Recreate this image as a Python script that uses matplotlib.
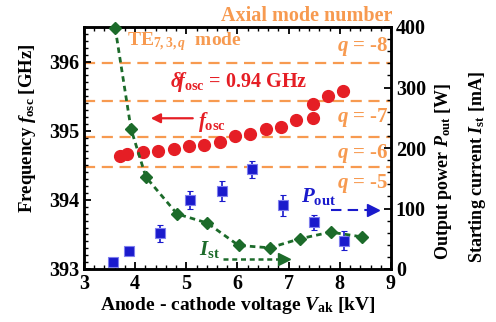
import matplotlib
matplotlib.use("Agg")
import matplotlib.pyplot as plt
import numpy as np
from matplotlib.ticker import MultipleLocator

plt.rcParams['font.family'] = 'Liberation Serif'
plt.rcParams['font.weight'] = 'bold'
plt.rcParams['axes.labelweight'] = 'bold'
plt.rcParams['mathtext.fontset'] = 'custom'
plt.rcParams['mathtext.rm'] = 'Liberation Serif:bold'
plt.rcParams['mathtext.it'] = 'Liberation Serif:bold:italic'
plt.rcParams['mathtext.bf'] = 'Liberation Serif:bold'

# oscillation frequency (left axis, GHz)
v_f = [3.70, 3.85, 4.15, 4.45, 4.75, 5.05, 5.35, 5.65, 5.95, 6.25, 6.55, 6.85,
       7.15, 7.47, 7.47, 7.77, 8.07]
f_osc = [394.64, 394.67, 394.69, 394.71, 394.74, 394.78, 394.80, 394.84, 394.92,
         394.95, 395.02, 395.06, 395.15, 395.19, 395.38, 395.50, 395.58]

# output power (right axis, W)
v_p = [3.56, 3.87, 4.48, 5.08, 5.69, 6.29, 6.88, 7.50, 8.08]
p_out = [12, 29, 59, 114, 129, 165, 105, 77, 47]
p_err = [0, 0, 14, 15, 17, 14, 18, 12, 16]

# starting current (right axis, mA)
v_i = [3.61, 3.92, 4.21, 4.82, 5.41, 6.02, 6.63, 7.22, 7.82, 8.44]
i_st = [398, 231, 152, 91, 76, 39, 35, 50, 61, 53]

# axial mode frequencies
q_freq = [395.98, 395.43, 394.91, 394.48]
q_labels = ['$q$ = -8', '$q$ = -7', '$q$ = -6', '$q$ = -5']
q_offset = [0.07, -0.07, -0.07, -0.07]

orange = '#f79a50'
red = '#e51e25'
blue = '#1a1acc'
green = '#1c6b2a'

fig = plt.figure(figsize=(4.96, 3.22), dpi=100)
ax = fig.add_axes([84/496, 1-269/322, (391-84)/496, (269-27)/322])
ax2 = ax.twinx()

ax.set_xlim(3, 9)
ax.set_ylim(393, 396.5)
ax2.set_ylim(0, 400)

for qf in q_freq:
    ax.axhline(qf, color=orange, lw=1.6, ls=(0, (5, 3)), zorder=1)
for qf, lab, off in zip(q_freq, q_labels, q_offset):
    ax.text(8.95, qf + off, lab, color=orange, fontsize=15, ha='right',
            va='bottom' if off > 0 else 'top')

ax.plot(v_f, f_osc, 'o', color=red, ms=8.5, zorder=3)

ax2.plot(v_i, i_st, color=green, lw=2, ls=(0, (2, 1.5)), marker='D', ms=6.5,
         zorder=4, clip_on=False)
ax2.errorbar(v_p, p_out, yerr=p_err, fmt='s', color=blue, ms=7.5,
             mec='#7f7fee', mew=0.8, ecolor=blue, elinewidth=1.2, capsize=2.5,
             zorder=3)

# annotations
ax.text(3.84, 396.23, r'TE$_{\mathrm{7,3,}q}$  mode', color=orange, fontsize=14)
fig.text(392/496, 1-16/322, 'Axial mode number', color=orange, fontsize=14.5,
         ha='right', va='center')
ax.text(4.69, 395.63, r'$\delta\!f_{\mathrm{osc}}$ = 0.94 GHz', color=red,
        fontsize=14.5)
ax.text(5.22, 395.05, r'$f_{\mathrm{osc}}$', color=red, fontsize=15)
ax.annotate('', xy=(4.25, 395.18), xytext=(5.18, 395.18),
            arrowprops=dict(arrowstyle='-|>', color=red, lw=1.6,
                            mutation_scale=14))
ax2.text(7.24, 110, r'$P_{\mathrm{out}}$', color=blue, fontsize=15)
ax2.plot([7.82, 8.65], [97, 97], color=blue, lw=1.5, ls=(0, (5, 3)))
ax2.plot([8.65], [97], '>', color=blue, ms=9)
ax2.text(5.24, 23, r'$I_{\mathrm{st}}$', color=green, fontsize=15)
ax2.plot([5.71, 6.9], [16, 16], color=green, lw=1.8, ls=(0, (2, 1.5)))
ax2.plot([6.9], [16], '>', color=green, ms=9)

# axes styling
ax.xaxis.set_major_locator(MultipleLocator(1))
ax.xaxis.set_minor_locator(MultipleLocator(0.2))
ax.yaxis.set_major_locator(MultipleLocator(1))
ax.yaxis.set_minor_locator(MultipleLocator(0.1))
ax2.yaxis.set_major_locator(MultipleLocator(100))
ax2.yaxis.set_minor_locator(MultipleLocator(20))
ax.tick_params(axis='x', which='both', direction='in', top=True)
ax.tick_params(axis='y', which='both', direction='in', right=False)
ax2.tick_params(axis='y', which='both', direction='in')
for a in (ax, ax2):
    a.tick_params(which='major', length=5, width=1.3, labelsize=14.5)
    a.tick_params(which='minor', length=3, width=1.0)
    for s in a.spines.values():
        s.set_linewidth(1.8)

ax.set_xlabel(r'Anode - cathode voltage $V_{\mathrm{ak}}$ [kV]', fontsize=14,
              labelpad=1)
ax.set_ylabel(r'Frequency $f_{\mathrm{osc}}$ [GHz]', fontsize=13.5)
ax.yaxis.set_label_coords(-0.15, 0.58)
fig.text(443/496, 1-171/322, r'Output power $P_{\mathrm{out}}$ [W]',
         rotation=90, fontsize=13, ha='center', va='center')
fig.text(478/496, 1-167/322, r'Starting current $I_{\mathrm{st}}$ [mA]',
         rotation=90, fontsize=13, ha='center', va='center')

fig.savefig('out.png', dpi=100)
